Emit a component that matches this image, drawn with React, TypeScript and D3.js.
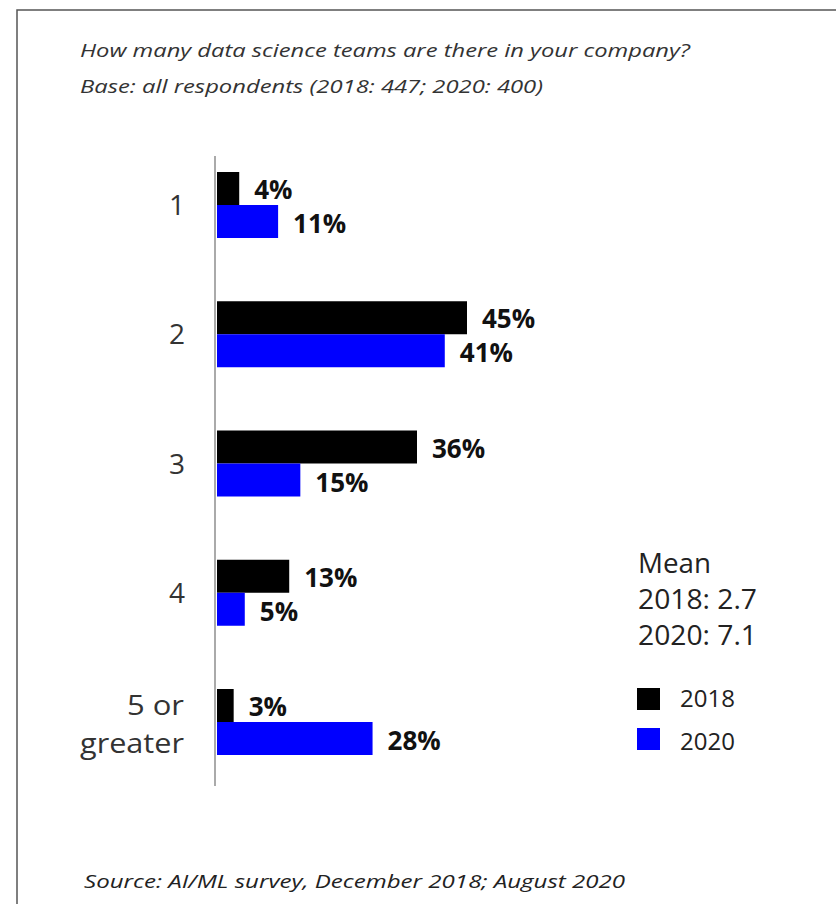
import React from "react";
import * as d3 from "d3";

const categories = ["1", "2", "3", "4", "5 or greater"];
const categoryLines = [["1"], ["2"], ["3"], ["4"], ["5 or", "greater"]];
const values2018 = [4, 45, 36, 13, 3];
const values2020 = [11, 41, 15, 5, 28];
const seriesNames = ["2018", "2020"];
const seriesColors = ["#000000", "#0000ff"];
const titleLines = [
  "How many data science teams are there in your company?",
  "Base: all respondents (2018: 447; 2020: 400)",
];
const meanLines = ["Mean", "2018: 2.7", "2020: 7.1"];
const sourceText = "Source: AI/ML survey, December 2018; August 2020";

const W = 836;
const H = 904;
const FONT = "'Open Sans', 'DejaVu Sans', sans-serif";

export default function App() {
  const x = d3.scaleLinear().domain([0, 45]).range([217, 467]);
  const y = d3.scalePoint<string>().domain(categories).range([205, 722]);
  const barH = 33;
  const series = [values2018, values2020];
  const multiLen = [57, 104];
  const meanLen = [73, 119, 119];

  return (
    <svg
      width={W}
      height={H}
      style={{ position: "absolute", left: 0, top: 0, background: "#fff" }}
      fontFamily={FONT}
    >
      <rect x={0} y={0} width={W} height={H} fill="#fff" />
      <rect x={17} y={10} width={W + 20} height={H + 20} fill="none" stroke="#555" strokeWidth={1.5} />

      {titleLines.map((t, i) => (
        <text
          key={t}
          x={80}
          y={57 + i * 36}
          fontSize={18.5}
          fontStyle="italic"
          fill="#333"
          textLength={i === 0 ? 610 : 463}
          lengthAdjust="spacingAndGlyphs"
        >
          {t}
        </text>
      ))}

      <line x1={215} x2={215} y1={156} y2={786} stroke="#aaa" strokeWidth={2} />

      {categories.map((c, ci) => {
        const cy = y(c)!;
        return (
          <g key={c}>
            {series.map((vals, si) => {
              const yTop = si === 0 ? cy - barH : cy;
              const v = vals[ci];
              return (
                <g key={si}>
                  <rect
                    x={x(0)}
                    y={yTop}
                    width={x(v) - x(0)}
                    height={barH}
                    fill={seriesColors[si]}
                  />
                  <text
                    x={x(v) + 15}
                    y={si === 0 ? cy - 6 : cy + 28}
                    fontSize={26}
                    fontWeight={700}
                    fill="#111"
                  >
                    {v}%
                  </text>
                </g>
              );
            })}
            {categoryLines[ci].length === 1 ? (
              <text x={185} y={cy + 10} fontSize={28} textAnchor="end" fill="#333">
                {categoryLines[ci][0]}
              </text>
            ) : (
              categoryLines[ci].map((ln, li) => (
                <text
                  key={ln}
                  x={184}
                  y={715 + li * 38}
                  fontSize={28}
                  textAnchor="end"
                  fill="#333"
                  textLength={multiLen[li]}
                  lengthAdjust="spacingAndGlyphs"
                >
                  {ln}
                </text>
              ))
            )}
          </g>
        );
      })}

      {meanLines.map((t, i) => (
        <text
          key={t}
          x={638}
          y={573 + i * 36}
          fontSize={26.5}
          fill="#222"
          textLength={meanLen[i]}
          lengthAdjust="spacingAndGlyphs"
        >
          {t}
        </text>
      ))}

      {seriesNames.map((s, i) => (
        <g key={s}>
          <rect x={637} y={688 + i * 40} width={23} height={22} fill={seriesColors[i]} />
          <text x={680} y={707 + i * 43} fontSize={24} fill="#222">
            {s}
          </text>
        </g>
      ))}

      <text
        x={84}
        y={888}
        fontSize={18.5}
        fontStyle="italic"
        fill="#222"
        textLength={541}
        lengthAdjust="spacingAndGlyphs"
      >
        {sourceText}
      </text>
    </svg>
  );
}
